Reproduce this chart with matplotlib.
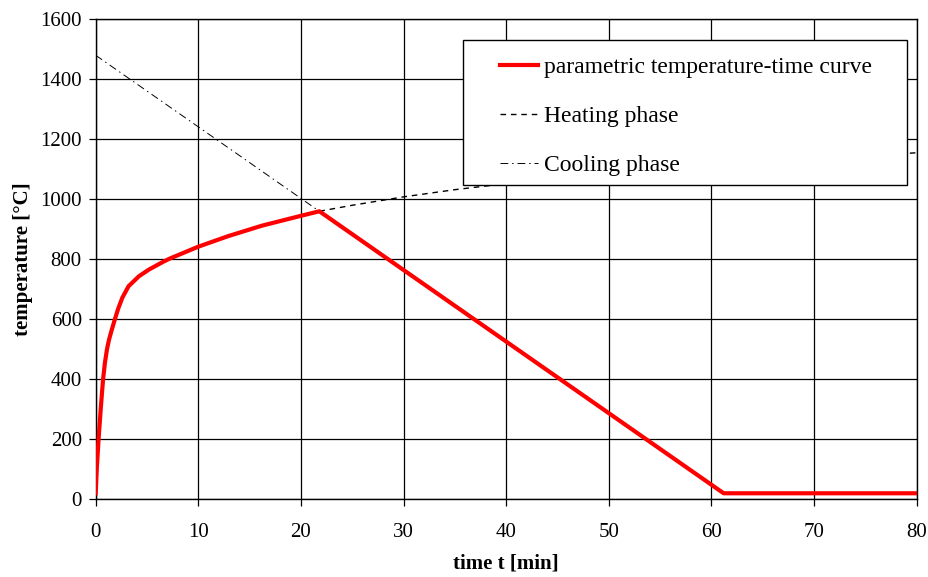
import matplotlib.pyplot as plt
from matplotlib.patches import Rectangle

# red curve (t in min, temperature in degC)
heat_t = [0, 0.12, 0.3, 0.5, 0.72, 0.9, 1.1, 1.3, 1.5, 1.87, 2.2, 2.6, 3.2, 4.2,
          5.2, 6.6, 7.2, 8.6, 10.0, 12.9, 16.2, 19.9, 21.8]
heat_T = [20, 110, 210, 305, 400, 455, 500, 532, 557, 600, 636, 672, 710, 743,
          766, 792, 802, 822, 842, 877, 912, 944, 960]
cool_t = [21.8, 61.2, 80]
cool_T = [960, 20, 20]

# heating phase continued past the peak
heating_t = [21.8, 25, 30, 35, 40, 50, 60, 70, 80]
heating_T = [960, 980, 1008, 1032, 1052, 1085, 1112, 1135, 1155]

# cooling phase extended back to t = 0
cooling_t = [0, 21.8]
cooling_T = [1480, 960]

plt.rcParams['font.family'] = ['Liberation Serif', 'DejaVu Serif']

fig = plt.figure(figsize=(9.29, 5.77), dpi=100)
ax = fig.add_axes([0.103, 0.1347, 0.8836, 0.8319])

ax.plot(heat_t + cool_t[1:], heat_T + cool_T[1:], color='red', lw=3,
        label='parametric temperature-time curve', zorder=4,
        solid_joinstyle='round')
ax.plot(heating_t, heating_T, color='black', lw=1.0, ls=(0, (4, 3.5)),
        label='Heating phase', zorder=3)
ax.plot(cooling_t, cooling_T, color='black', lw=0.7, ls=(0, (8, 4, 1.5, 4)),
        label='Cooling phase', zorder=3)

ax.set_xlim(0, 80)
ax.set_ylim(0, 1600)
ax.set_xticks(range(0, 81, 10))
ax.set_yticks(range(0, 1601, 200))
ax.grid(True, color='black', lw=0.9)
ax.set_axisbelow(True)
ax.tick_params(labelsize=15, direction='out', length=5, width=0.9)
ax.tick_params(axis='x', pad=12)
ax.tick_params(axis='y', pad=5)
for s in ax.spines.values():
    s.set_linewidth(1.0)

ax.set_xlabel('time t [min]', fontsize=15, fontweight='bold', labelpad=8)
ax.set_ylabel('temperature [°C]', fontsize=15, fontweight='bold', labelpad=5)

# legend box
box = Rectangle((0.4474, 0.6548), 0.5408, 0.3021, transform=ax.transAxes,
                facecolor='white', edgecolor='black', lw=1.0, zorder=5)
ax.add_patch(box)
leg = ax.legend(loc='center left', bbox_to_anchor=(0.4925, 0.798), fontsize=17,
                frameon=False, handlelength=1.6, handletextpad=0.28,
                labelspacing=1.16, borderpad=0, borderaxespad=0)
leg.set_zorder(6)

fig.savefig('out.png', dpi=100)
